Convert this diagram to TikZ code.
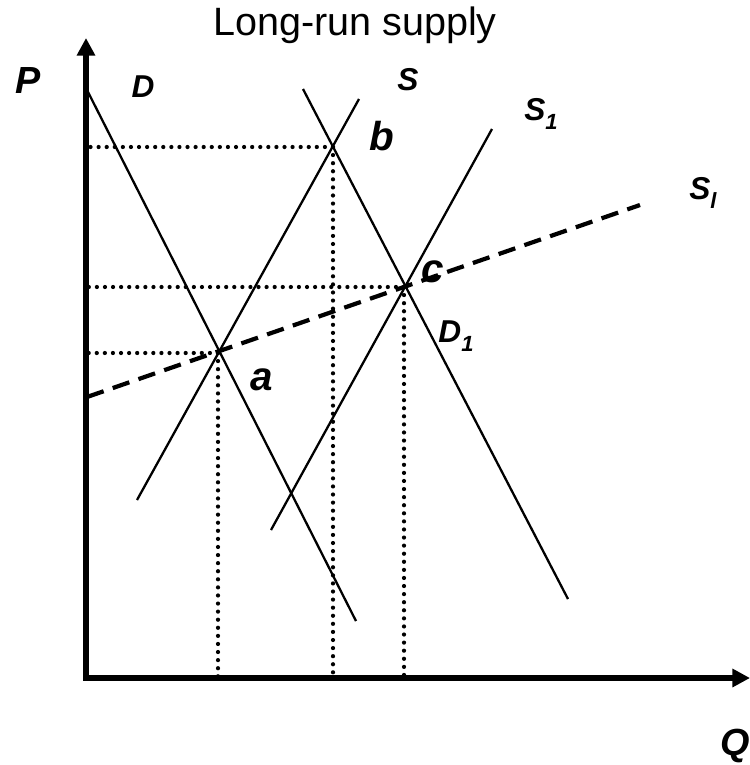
\documentclass[tikz,border=0pt]{standalone}
\usepackage{fontspec}
\setmainfont{Liberation Sans}
\usetikzlibrary{arrows.meta}

\begin{document}
\begin{tikzpicture}[x=0.02cm, y=-0.02cm,
  axis/.style={line width=3.6pt, line join=miter,
               {Triangle[length=10pt, width=10pt]}-{Triangle[length=10pt, width=10pt]}},
  curve/.style={line width=1.3pt},
  guide/.style={line width=2.4pt, line cap=round, dash pattern=on 0pt off 4.6pt},
  lrs/.style={line width=2.4pt, dash pattern=on 10pt off 5.5pt},
  lbl/.style={font=\fontsize{18}{20}\selectfont\bfseries\itshape},
  pt/.style={font=\fontsize{23}{26}\selectfont\bfseries\itshape},
]
  \useasboundingbox (0,0) rectangle (750,765);

  % axes
  \coordinate (O) at (86,678);
  \coordinate (ytop) at (86,38);
  \coordinate (xend) at (750,678);
  \draw[axis] (ytop) -- (O) -- (xend);

  % curve ends
  \coordinate (D0) at (87,90);    \coordinate (D9) at (356,621);
  \coordinate (S0) at (137,500);  \coordinate (S9) at (359,99);
  \coordinate (Da) at (303,89);   \coordinate (Db) at (568,599);
  \coordinate (Sa) at (271,530);  \coordinate (Sb) at (492,129);
  \coordinate (L0) at (87,397);   \coordinate (L9) at (640,205);

  % equilibria
  \coordinate (a) at (218,353);
  \coordinate (b) at (333,147);
  \coordinate (c) at (404,287);

  % guides
  \draw[guide] (a) -- (a |- O);
  \draw[guide] (b) -- (b |- O);
  \draw[guide] (c) -- (c |- O);
  \draw[guide] (a) -- (a -| O);
  \draw[guide] (b) -- (b -| O);
  \draw[guide] (c) -- (c -| O);

  \draw[curve] (D0) -- (D9);
  \draw[curve] (S0) -- (S9);
  \draw[curve] (Da) -- (Db);
  \draw[curve] (Sa) -- (Sb);
  \draw[lrs] (L0) -- (L9);

  % labels
  \node[font=\fontsize{22.5}{26}\selectfont] (title) at (355,25) {Long-run supply};
  \node[font=\fontsize{21.5}{24}\selectfont\bfseries\itshape] (P) at (28,81) {P};
  \node[font=\fontsize{21.5}{24}\selectfont\bfseries\itshape] (Q) at (735,746) {Q};
  \node[lbl] (Dl) at (143,87) {D};
  \node[lbl] (Sl) at (408,80) {S};
  \node[lbl] (S1l) at (541,114) {S\raisebox{-0.5ex}{\fontsize{12.5}{13}\selectfont 1}};
  \node[lbl] (Sll) at (703,193) {S\raisebox{-0.5ex}{\fontsize{12.5}{13}\selectfont l}};
  \node[lbl] (D1l) at (456,336) {D\raisebox{-0.5ex}{\fontsize{12.5}{13}\selectfont 1}};
  \node[pt] (al) at (262,380) {a};
  \node[pt] (bl) at (382,136) {b};
  \node[pt] (cl) at (433,272) {c};
\end{tikzpicture}
\end{document}
